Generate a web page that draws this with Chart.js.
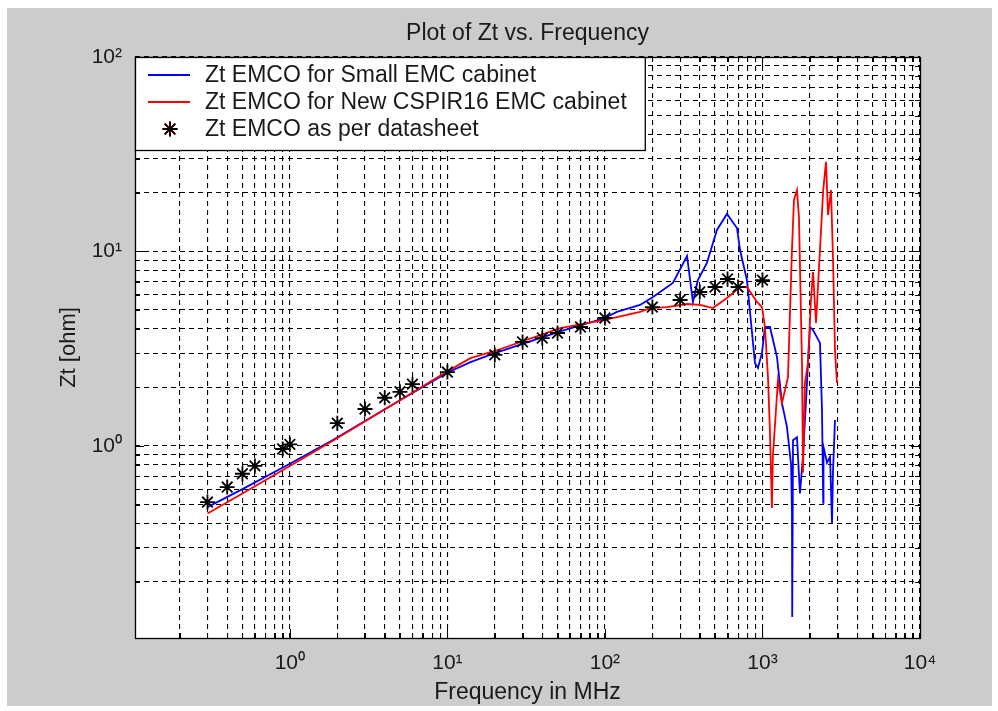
<!DOCTYPE html>
<html>
<head>
<meta charset="utf-8">
<title>Plot of Zt vs. Frequency</title>
<script src="https://cdn.jsdelivr.net/npm/chart.js@4.4.1/dist/chart.umd.min.js"></script>
<style>
	html, body { margin: 0; padding: 0; background: #fff; }
	canvas { display: block; }
</style>
</head>
<body>
<canvas id="chart" width="998" height="711"></canvas>
<script>
// Zt EMCO for Small EMC cabinet (blue)
const smallFreq = [0.3, 0.5, 1, 1.9, 5, 10, 14, 20, 52, 100, 119, 167, 202, 270, 332, 362, 389, 444, 514, 595, 689, 720, 797, 896, 936, 993, 1037, 1116, 1236, 1330, 1431, 1520, 1539, 1545, 1563, 1656, 1730, 1808, 1917, 1945, 2004, 2094, 2318, 2387, 2430, 2440, 2570, 2685, 2763, 2803, 2887];
const smallZt   = [0.485, 0.6, 0.81, 1.08, 1.72, 2.38, 2.7, 3.0, 3.88, 4.55, 4.89, 5.31, 5.84, 6.89, 9.48, 5.5, 7.13, 8.73, 12.9, 15.6, 13.2, 10.2, 7.13, 2.67, 2.52, 3.01, 4.09, 4.09, 2.87, 1.66, 1.25, 0.8, 0.45, 0.132, 1.07, 1.11, 0.57, 0.88, 2.11, 2.67, 4.09, 3.95, 3.39, 1.53, 0.51, 0.99, 0.82, 0.88, 0.4, 0.73, 1.36];

// Zt EMCO for New CSPIR16 EMC cabinet (red)
const newFreq = [0.3, 0.5, 1, 1.9, 5, 10, 14, 20, 52, 100, 119, 167, 193, 248, 332, 401, 485, 595, 650, 720, 797, 923, 993, 1037, 1084, 1116, 1148, 1164, 1254, 1330, 1452, 1539, 1585, 1656, 1705, 1782, 1808, 1861, 1945, 2032, 2094, 2187, 2318, 2430, 2531, 2606, 2723, 2803, 2887, 2971];
const newZt   = [0.45, 0.57, 0.79, 1.07, 1.72, 2.42, 2.83, 3.08, 4.04, 4.45, 4.6, 4.89, 5.12, 5.18, 5.37, 5.31, 5.12, 5.77, 6.12, 6.57, 6.57, 5.5, 5.18, 4.09, 2.26, 1.17, 0.48, 0.88, 2.18, 1.66, 2.26, 10.2, 18.4, 20.7, 15.0, 2.67, 0.73, 2.11, 2.67, 5.63, 7.85, 4.29, 10.2, 20.7, 28.9, 15.4, 20.7, 9.37, 3.11, 2.11];

// Zt EMCO as per datasheet (stars)
const sheetFreq = [0.3, 0.4, 0.5, 0.6, 0.9, 1, 2, 3, 4, 5, 6, 10, 20, 30, 40, 50, 70, 100, 200, 300, 400, 500, 600, 700, 1000];
const sheetZt   = [0.515, 0.615, 0.72, 0.79, 0.965, 1.02, 1.31, 1.55, 1.77, 1.9, 2.08, 2.4, 2.94, 3.43, 3.59, 3.81, 4.09, 4.55, 5.18, 5.63, 6.19, 6.57, 7.22, 6.57, 7.13];

// axis ranges and grid positions
const xMin = 0.104, xMax = 10000;
const yMin = 0.103, yMax = 100;
const xDecades = [0.1, 1, 10, 100, 1000];
const yDecades = [0.1, 1, 10];
const mantissas = [1, 2, 3, 4, 5, 6, 7, 8, 9];

const textColor = '#1a1a1a';
const gridColor = '#000';
const fontFamily = '"Liberation Sans", Arial, sans-serif';
const superDigits = {'-': '⁻', '0': '⁰', '1': '¹', '2': '²', '3': '³', '4': '⁴', '5': '⁵'};

Chart.defaults.font.family = fontFamily;
Chart.defaults.color = textColor;

function toPoints(xs, ys) {
	return xs.map((x, i) => ({x: x, y: ys[i]}));
}

function logTicks(decades, min, max) {
	const vals = [];
	decades.forEach(d => mantissas.forEach(m => vals.push(+(d * m).toPrecision(6))));
	vals.push(max);
	return vals.filter(v => v >= min && v <= max).map(v => ({value: v}));
}

function isPower(value) {
	const e = Math.log10(value);
	return Math.abs(e - Math.round(e)) < 1e-6;
}

function powerLabel(value) {
	if (!isPower(value)) return '';
	return '10' + String(Math.round(Math.log10(value))).split('').map(c => superDigits[c]).join('');
}

// grey figure, white axes
const figureBackground = {
	id: 'figureBackground',
	beforeDraw(chart) {
		const {ctx, chartArea: a} = chart;
		ctx.save();
		ctx.fillStyle = '#fff';
		ctx.fillRect(0, 0, chart.width, chart.height);
		ctx.fillStyle = '#cccccc';
		ctx.fillRect(7, 8, chart.width - 13, chart.height - 13);
		ctx.fillStyle = '#fff';
		ctx.fillRect(a.left, a.top, a.width, a.height);
		ctx.restore();
	}
};

// box around the axes with inward tick marks on all four sides
const axesBox = {
	id: 'axesBox',
	afterDatasetsDraw(chart) {
		const {ctx, chartArea: a, scales: {x, y}} = chart;
		ctx.save();
		ctx.strokeStyle = '#000';
		ctx.lineWidth = 1;
		ctx.beginPath();
		x.ticks.forEach(t => {
			const px = Math.round(x.getPixelForValue(t.value)) + 0.5;
			const len = isPower(t.value) ? 9 : 5;
			ctx.moveTo(px, a.bottom);
			ctx.lineTo(px, a.bottom - len);
			ctx.moveTo(px, a.top);
			ctx.lineTo(px, a.top + len);
		});
		y.ticks.forEach(t => {
			const py = Math.round(y.getPixelForValue(t.value)) + 0.5;
			const len = isPower(t.value) ? 9 : 5;
			ctx.moveTo(a.left, py);
			ctx.lineTo(a.left + len, py);
			ctx.moveTo(a.right, py);
			ctx.lineTo(a.right - len, py);
		});
		ctx.stroke();
		ctx.lineWidth = 1.3;
		ctx.strokeRect(a.left + 0.5, a.top + 0.5, a.width, a.height);
		ctx.restore();
	}
};

// matlab style legend in the top left corner of the axes
const boxLegend = {
	id: 'boxLegend',
	afterDraw(chart) {
		const {ctx, chartArea: a} = chart;
		const datasets = chart.data.datasets;
		ctx.save();
		ctx.font = '23px ' + fontFamily;
		const textX = a.left + 70;
		const widest = Math.max(...datasets.map(ds => ctx.measureText(ds.label).width));
		const w = textX - a.left + widest + 18;
		const h = 93;
		ctx.fillStyle = '#fff';
		ctx.fillRect(a.left, a.top, w, h);
		ctx.strokeStyle = '#000';
		ctx.lineWidth = 1.3;
		ctx.strokeRect(a.left + 0.5, a.top + 0.5, w, h);

		datasets.forEach((ds, i) => {
			const y = a.top + 18 + i * 27;
			if (ds.showLine === false) {
				Chart.helpers.drawPoint(ctx, {pointStyle: 'star', radius: ds.pointRadius, borderWidth: ds.pointBorderWidth}, a.left + 35, y);
				ctx.strokeStyle = ds.borderColor;
				ctx.lineWidth = ds.pointBorderWidth;
				ctx.stroke();
			} else {
				ctx.strokeStyle = ds.borderColor;
				ctx.lineWidth = ds.borderWidth;
				ctx.beginPath();
				ctx.moveTo(a.left + 13, y);
				ctx.lineTo(a.left + 55, y);
				ctx.stroke();
			}
			ctx.fillStyle = textColor;
			ctx.textBaseline = 'middle';
			ctx.textAlign = 'left';
			ctx.fillText(ds.label, textX, y + 1);
		});
		ctx.restore();
	}
};

new Chart(document.getElementById('chart').getContext('2d'), {
	type: 'line',
	data: {
		datasets: [
			{
				label: 'Zt EMCO for Small EMC cabinet',
				data: toPoints(smallFreq, smallZt),
				borderColor: '#0000ff',
				borderWidth: 1.8,
				pointRadius: 0,
				tension: 0,
				order: 2
			},
			{
				label: 'Zt EMCO for New CSPIR16 EMC cabinet',
				data: toPoints(newFreq, newZt),
				borderColor: '#ff0000',
				borderWidth: 1.8,
				pointRadius: 0,
				tension: 0,
				order: 1
			},
			{
				label: 'Zt EMCO as per datasheet',
				data: toPoints(sheetFreq, sheetZt),
				showLine: false,
				borderColor: '#000',
				backgroundColor: '#000',
				pointStyle: 'star',
				pointRadius: 7.5,
				pointBorderWidth: 1.8,
				order: 0
			}
		]
	},
	options: {
		responsive: false,
		animation: false,
		devicePixelRatio: 1,
		layout: {
			padding: {left: 0, right: 78, top: 0, bottom: 0}
		},
		scales: {
			x: {
				type: 'logarithmic',
				min: xMin,
				max: xMax,
				afterBuildTicks: s => { s.ticks = logTicks(xDecades, xMin, xMax); },
				afterFit: s => { s.height = 73; },
				grid: {color: gridColor, lineWidth: 1.1, drawTicks: false},
				border: {display: false, dash: [5, 4]},
				ticks: {autoSkip: false, maxRotation: 0, padding: 13, font: {size: 21}, callback: powerLabel},
				title: {display: true, text: 'Frequency in MHz', font: {size: 23}, padding: {top: 0, bottom: 5}}
			},
			y: {
				type: 'logarithmic',
				min: yMin,
				max: yMax,
				afterBuildTicks: s => { s.ticks = logTicks(yDecades, yMin, yMax); },
				afterFit: s => { s.width = 135; },
				grid: {color: gridColor, lineWidth: 1.1, drawTicks: false},
				border: {display: false, dash: [5, 4]},
				ticks: {autoSkip: false, padding: 13, font: {size: 21}, callback: powerLabel},
				title: {display: true, text: 'Zt [ohm]', font: {size: 22}, padding: {top: 56, bottom: 0}}
			}
		},
		plugins: {
			title: {
				display: true,
				text: 'Plot of Zt vs. Frequency',
				fullSize: false,
				font: {size: 23, weight: 'normal'},
				padding: {top: 20, bottom: 9.4}
			},
			legend: {display: false},
			tooltip: {enabled: false}
		}
	},
	plugins: [figureBackground, axesBox, boxLegend]
});
</script>
</body>
</html>
